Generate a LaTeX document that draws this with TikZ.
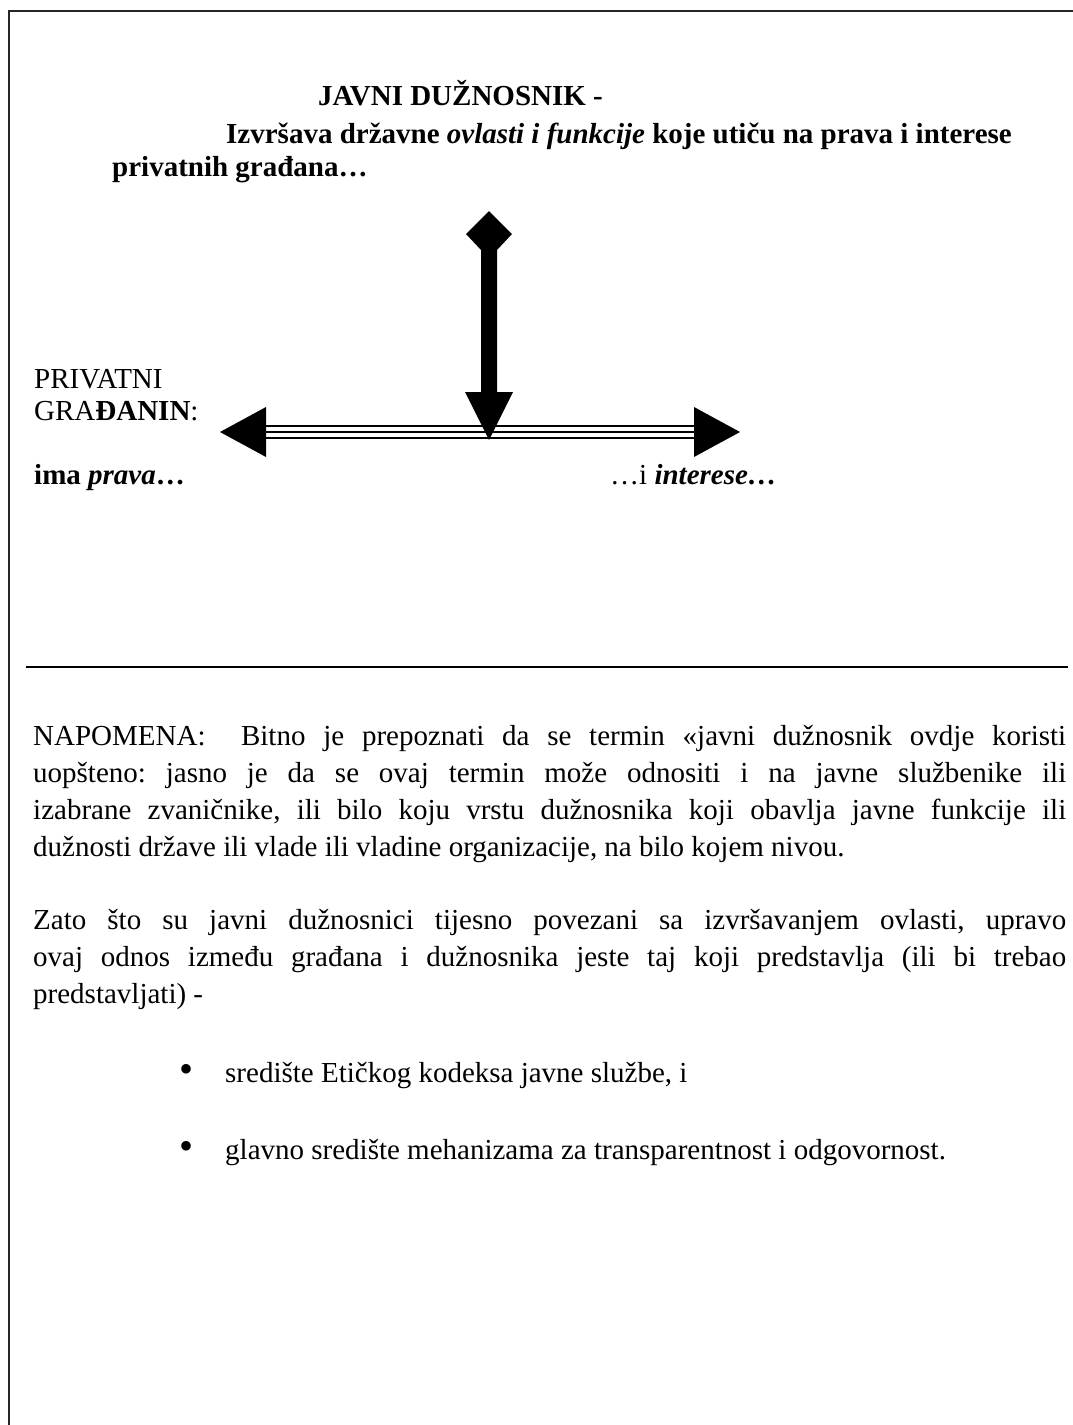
\documentclass[tikz,border=0pt]{standalone}
\usepackage{fontspec}
\setmainfont{LiberationSerif}[Extension=.ttf, UprightFont=*-Regular, BoldFont=*-Bold, ItalicFont=*-Italic, BoldItalicFont=*-BoldItalic]
\begin{document}
\frenchspacing
\begin{tikzpicture}[x=1pt,y=-1pt,
  txt/.style={anchor=base west, inner sep=0pt, font=\fontsize{29}{34}\selectfont},
  bul/.style={anchor=center, inner sep=0pt, font=\fontsize{40}{40}\selectfont},
  frameline/.style={line width=2pt, draw=black!85},
  tripleline/.style={line width=2.4pt}]
\useasboundingbox (0,0) rectangle (1073,1425);
% frame
\draw[frameline] (9,1425) -- (9,11) -- (1073,11);
\draw[line width=1.6pt] (26,667) -- (1068,667);
% heading
\node[txt] (t1) at (318,105) {\bfseries JAVNI DUŽNOSNIK -};
\node[txt] (t2) at (226,143) {\bfseries Izvršava državne \textit{ovlasti i funkcije} koje utiču na prava i interese};
\node[txt] (t3) at (112,176) {\bfseries privatnih građana…};
% vertical arrow with diamond tail
\coordinate (vtop) at (489,211);
\coordinate (vtip) at (489,440);
\fill (466,234) -- (vtop) -- (512,234) -- (497,250) -- (497,392) -- (513,392) -- (vtip) -- (465,392) -- (481,392) -- (481,250) -- cycle;
% horizontal triple arrow
\coordinate (lt) at (220,432);
\coordinate (rt) at (740,432);
\draw[tripleline] (266,426) -- (694,426);
\draw[tripleline] (266,432) -- (694,432);
\draw[tripleline] (266,438) -- (694,438);
\fill (lt) -- (266,407) -- (266,457) -- cycle;
\fill (rt) -- (694,407) -- (694,457) -- cycle;
% left labels
\node[txt] (p1) at (34,388) {PRIVATNI};
\node[txt] (p2) at (34,420) {GRA\textbf{ĐANIN}:};
\node[txt] (p3) at (34,484) {\textbf{ima \textit{prava}…}};
\node[txt] (p4) at (610,484) {…i \textbf{\textit{interese…}}};
% note
\node[txt] (n1) at (33,745) {\makebox[1033pt][s]{NAPOMENA:\ \ Bitno je prepoznati da se termin «javni dužnosnik ovdje koristi}};
\node[txt] (n2) at (33,782) {\makebox[1033pt][s]{uopšteno: jasno je da se ovaj termin može odnositi i na javne službenike ili}};
\node[txt] (n3) at (33,819) {\makebox[1033pt][s]{izabrane zvaničnike, ili bilo koju vrstu dužnosnika koji obavlja javne funkcije ili}};
\node[txt] (n4) at (33,856) {dužnosti države ili vlade ili vladine organizacije, na bilo kojem nivou.};
\node[txt] (z1) at (33,929) {\makebox[1033pt][s]{Zato što su javni dužnosnici tijesno povezani sa izvršavanjem ovlasti, upravo}};
\node[txt] (z2) at (33,966) {\makebox[1033pt][s]{ovaj odnos između građana i dužnosnika jeste taj koji predstavlja (ili bi trebao}};
\node[txt] (z3) at (33,1003) {predstavljati) -};
% bullets
\node[bul] (b1d) at (186,1073) {•};
\node[txt] (b1) at (225,1082) {središte Etičkog kodeksa javne službe, i};
\node[bul] (b2d) at (186,1150) {•};
\node[txt] (b2) at (225,1159) {glavno središte mehanizama za transparentnost i odgovornost.};
\end{tikzpicture}
\end{document}
